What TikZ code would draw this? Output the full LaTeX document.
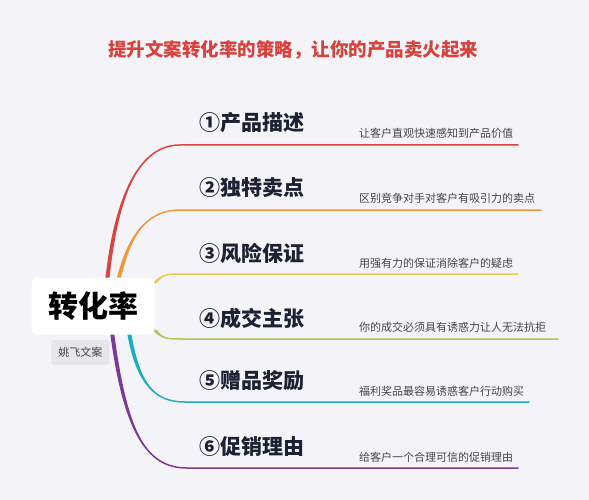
\documentclass[tikz,border=0pt]{standalone}
\usepackage{fontspec}
\setmainfont{Noto Sans CJK SC}
\usetikzlibrary{positioning}

\definecolor{bgcol}{HTML}{F4F4F8}
\definecolor{titlered}{HTML}{D8413C}
\definecolor{inkblue}{HTML}{1C2233}
\definecolor{notegray}{HTML}{444444}
\definecolor{tagfill}{HTML}{E6E6E9}
\definecolor{bred}{HTML}{D9443F}
\definecolor{borange}{HTML}{F0993C}
\definecolor{byellow}{HTML}{EACB55}
\definecolor{bolive}{HTML}{B7C25C}
\definecolor{bteal}{HTML}{1BAEC0}
\definecolor{bpurple}{HTML}{7D3A95}

\begin{document}
\begin{tikzpicture}[
    x=1pt, y=-1pt,
    root/.style={
        fill=white, rounded corners=6pt, minimum width=123pt, minimum height=57pt,
        font=\fontsize{30}{32}\selectfont\bfseries, text=black, inner sep=0pt
    },
    tag/.style={
        fill=tagfill, rounded corners=3pt, minimum width=58pt, minimum height=25pt,
        font=\fontsize{11}{13}\selectfont, text=notegray, inner sep=0pt
    },
    topic/.style={
        anchor=west, font=\fontsize{21}{24}\selectfont\bfseries, text=inkblue, inner sep=0pt
    },
    note/.style={
        anchor=west, font=\fontsize{11}{13}\selectfont, text=notegray, inner sep=0pt
    },
    branch/.style={line width=1.5pt, line cap=round}
]

\useasboundingbox (0,0) rectangle (589,500);
\fill[bgcol] (0,0) rectangle (589,500);

\node[font=\fontsize{18.5}{20}\selectfont\bfseries, text=titlered] (title) at (293,50)
    {提升文案转化率的策略，让你的产品卖火起来};

% branches: start, controls, end of curve, end of line
\foreach \i/\col/\sx/\sy/\ax/\ay/\bx/\by/\ex/\ey/\fx in {
    1/bred/107/282/115/205/135/145/180/145/518,
    2/borange/118/282/128/238/145/210/180/210/541,
    3/byellow/155/283/162/274/168/274/182/274/518,
    4/bolive/155/330/162/339/168/339/182/339/558,
    5/bteal/129/332/138/385/155/402/185/402/529,
    6/bpurple/112/332/125/430/145/468/187/468/518}{
    \coordinate (s\i) at (\sx,\sy);
    \coordinate (e\i) at (\ex,\ey);
    \coordinate (f\i) at (\fx,\ey);
    \fill[\col] (\sx-2,\sy) .. controls (\ax-2,\ay) and (\bx,\by) .. (e\i)
        .. controls (\bx,\by) and (\ax+2,\ay) .. (\sx+2,\sy) -- cycle;
    \draw[branch, \col] (s\i) .. controls (\ax,\ay) and (\bx,\by) .. (e\i) -- (f\i);
}

\node[root] (rate) at (93,306) {转化率};
\node[tag, below=5pt of rate.south west, xshift=49pt] (author) {姚飞文案};

\node[topic] (t1) at (199,123) {①产品描述};
\node[topic] (t2) at (199,188) {②独特卖点};
\node[topic] (t3) at (199,253) {③风险保证};
\node[topic] (t4) at (199,318) {④成交主张};
\node[topic] (t5) at (199,381) {⑤赠品奖励};
\node[topic] (t6) at (199,447) {⑥促销理由};

\node[note] (n1) at (359,133) {让客户直观快速感知到产品价值};
\node[note] (n2) at (359,198) {区别竞争对手对客户有吸引力的卖点};
\node[note] (n3) at (359,263) {用强有力的保证消除客户的疑虑};
\node[note] (n4) at (359,327) {你的成交必须具有诱惑力让人无法抗拒};
\node[note] (n5) at (359,391) {福利奖品最容易诱惑客户行动购买};
\node[note] (n6) at (359,457) {给客户一个合理可信的促销理由};

\end{tikzpicture}
\end{document}
